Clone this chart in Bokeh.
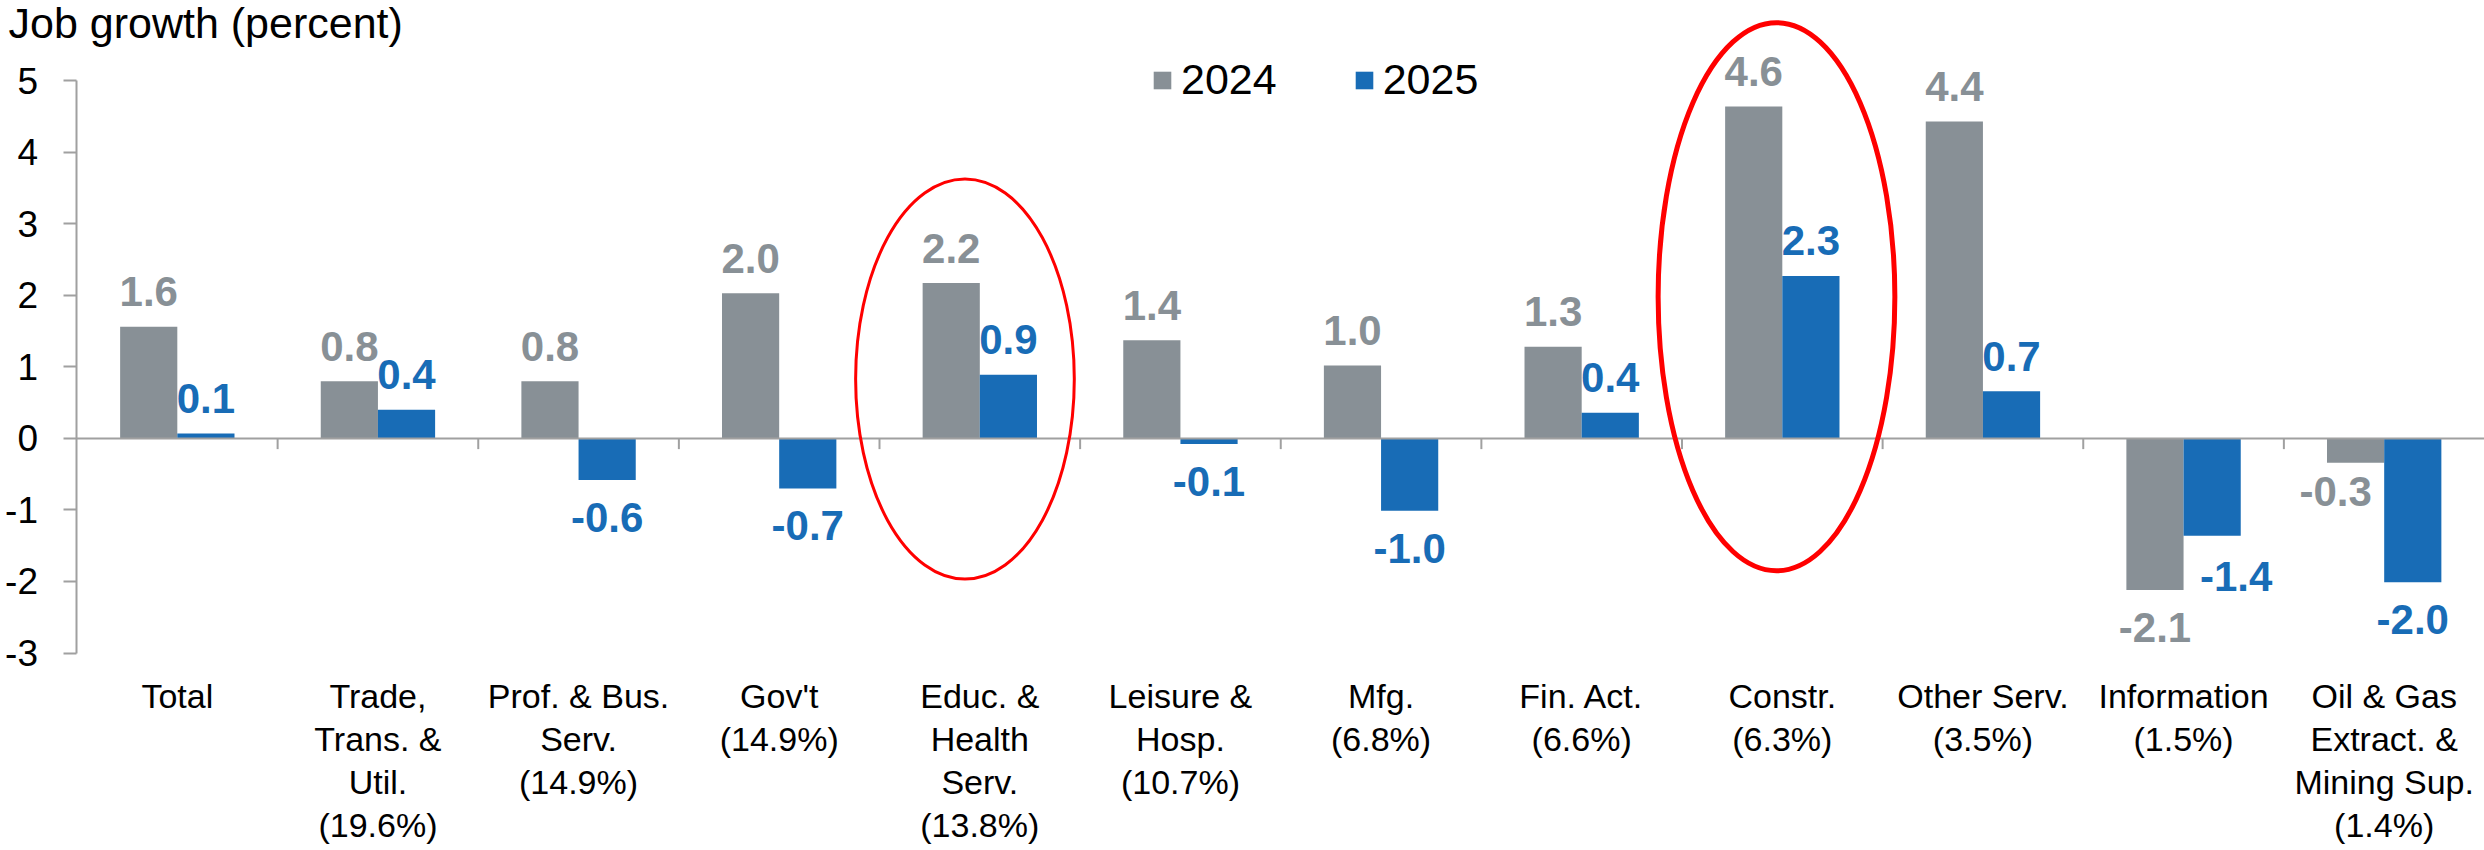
from bokeh.plotting import figure
from bokeh.models import Range1d, FixedTicker, Legend, LegendItem, Label, ColumnDataSource
from bokeh.embed import file_html
from bokeh.resources import INLINE
from bokeh.core.properties import value

# ---------------- data ----------------
categories = [
    "Total",
    "Trade,\nTrans. &\nUtil.\n(19.6%)",
    "Prof. & Bus.\nServ.\n(14.9%)",
    "Gov't\n(14.9%)",
    "Educ. &\nHealth\nServ.\n(13.8%)",
    "Leisure &\nHosp.\n(10.7%)",
    "Mfg.\n(6.8%)",
    "Fin. Act.\n(6.6%)",
    "Constr.\n(6.3%)",
    "Other Serv.\n(3.5%)",
    "Information\n(1.5%)",
    "Oil & Gas\nExtract. &\nMining Sup.\n(1.4%)",
]
growth_2024 = [1.56, 0.80, 0.80, 2.03, 2.17, 1.37, 1.02, 1.28, 4.64, 4.43, -2.12, -0.34]
growth_2025 = [0.07, 0.40, -0.58, -0.70, 0.89, -0.08, -1.01, 0.36, 2.27, 0.66, -1.36, -2.01]
series_names = ["2024", "2025"]
y_ticks = [-3, -2, -1, 0, 1, 2, 3, 4, 5]
y_tick_labels = ["-3", "-2", "-1", "0", "1", "2", "3", "4", "5"]
highlighted = ["Educ. &\nHealth\nServ.\n(13.8%)", "Constr.\n(6.3%)"]
title_text = "Job growth (percent)"

# ---------------- style ----------------
FONT = "Liberation Sans"
GRAY = "#889096"
BLUE = "#186CB6"
AXIS_GRAY = "#A0A0A0"
BAR_W = 0.285
n = len(categories)
centers = [i + 0.5 for i in range(n)]
# pixel nudges of a few value labels, as in the original
nudge_x_2024 = [0, 0, 0, 0, 0, 0, 0, 0, 0, 0, 0, -20]
nudge_y_2024 = [0, 0, 0, 0, 0, 0, 0, 0, 0, 0, 0, -9]
nudge_x_2025 = [0, 0, 0, 0, 0, 0, 0, 0, 0, 0, 24, 0]
nudge_y_2025 = [0, 0, 0, 0, 0, 0, 0, 0, 0, 0, 3, 0]

p = figure(width=2484, height=850, output_backend="svg", toolbar_location=None,
           x_range=Range1d(-0.3813, n), y_range=Range1d(-3.3, 6.12),
           min_border_left=0, min_border_right=0, min_border_top=0, min_border_bottom=176)
p.outline_line_color = None
p.grid.grid_line_color = None
p.background_fill_color = "white"
p.border_fill_color = "white"

# bars
x24 = [c - BAR_W / 2 for c in centers]
x25 = [c + BAR_W / 2 for c in centers]
r24 = p.vbar(x=x24, top=growth_2024, bottom=0, width=BAR_W, fill_color=GRAY, line_color=None)
r25 = p.vbar(x=x25, top=growth_2025, bottom=0, width=BAR_W, fill_color=BLUE, line_color=None)

# zero line and category separators
p.segment(x0=[0], y0=[0], x1=[n], y1=[0], line_color=AXIS_GRAY, line_width=2)
seps = list(range(1, n))
p.segment(x0=seps, y0=[0] * len(seps), x1=seps, y1=[-0.15] * len(seps),
          line_color=AXIS_GRAY, line_width=2)

# value labels
def add_labels(xs, vals, nx, ny, color):
    for positive in (True, False):
        idx = [i for i, v in enumerate(vals) if (v >= 0) == positive]
        base = -35 if positive else 23
        src = ColumnDataSource(dict(x=[xs[i] for i in idx], y=[vals[i] for i in idx],
                                    t=[f"{vals[i]:.1f}" for i in idx],
                                    dx=[nx[i] for i in idx],
                                    dy=[base + ny[i] for i in idx]))
        p.text(x="x", y="y", text="t", source=src, text_align="center",
               text_baseline="alphabetic" if positive else "top",
               x_offset="dx", y_offset="dy",
               text_color=color, text_font=value(FONT), text_font_style="bold",
               text_font_size="42px")

add_labels(x24, growth_2024, nudge_x_2024, nudge_y_2024, GRAY)
add_labels(x25, growth_2025, nudge_x_2025, nudge_y_2025, BLUE)

# highlight ellipses
ell_dx = [-0.074, -0.029]
ell_y = [0.83, 1.98]
ell_w = [1.09, 1.18]
ell_h = [5.59, 7.66]
ell_lw = [3, 5]
for cat, dx, ey, ew, eh, lw in zip(highlighted, ell_dx, ell_y, ell_w, ell_h, ell_lw):
    cx = centers[categories.index(cat)] + dx
    p.ellipse(x=[cx], y=[ey], width=[ew], height=[eh], fill_color=None,
              line_color="#FF0000", line_width=lw)

# y axis (placed at x = 0 of the category scale)
ya = p.yaxis[0]
ya.fixed_location = 0
ya.ticker = FixedTicker(ticks=y_ticks)
ya.major_label_overrides = {t: s for t, s in zip(y_ticks, y_tick_labels)}
ya.bounds = (-3, 5)
ya.axis_line_color = AXIS_GRAY
ya.axis_line_width = 2
ya.major_tick_line_color = AXIS_GRAY
ya.major_tick_line_width = 2
ya.major_tick_out = 13
ya.major_tick_in = 0
ya.minor_tick_line_color = None
ya.major_label_text_font = FONT
ya.major_label_text_font_size = "37px"
ya.major_label_text_color = "black"
ya.major_label_standoff = 26

# x axis
xa = p.xaxis[0]
xa.ticker = FixedTicker(ticks=centers)
xa.major_label_overrides = {c: lab for c, lab in zip(centers, categories)}
xa.axis_line_color = None
xa.major_tick_line_color = None
xa.minor_tick_line_color = None
xa.major_tick_out = 0
xa.major_tick_in = 0
xa.major_label_text_font = FONT
xa.major_label_text_font_size = "34px"
xa.major_label_text_line_height = 1.14
xa.major_label_text_color = "black"
xa.major_label_standoff = 2

# legend
legend = Legend(items=[LegendItem(label=series_names[0], renderers=[r24]),
                       LegendItem(label=series_names[1], renderers=[r25])],
                orientation="horizontal", location=(1151, 570),
                glyph_width=22, glyph_height=22, label_standoff=8, spacing=76,
                padding=0, margin=0, border_line_color=None, background_fill_alpha=0,
                label_text_font=FONT, label_text_font_size="43px", label_text_color="black")
p.add_layout(legend, "center")

# title (inside the frame, left of the y axis)
p.add_layout(Label(x=-0.3414, y=5.81, text=title_text, text_font=FONT,
                   text_font_size="43px", text_color="black", text_baseline="alphabetic"))

open("out.html", "w").write(file_html(p, INLINE))
